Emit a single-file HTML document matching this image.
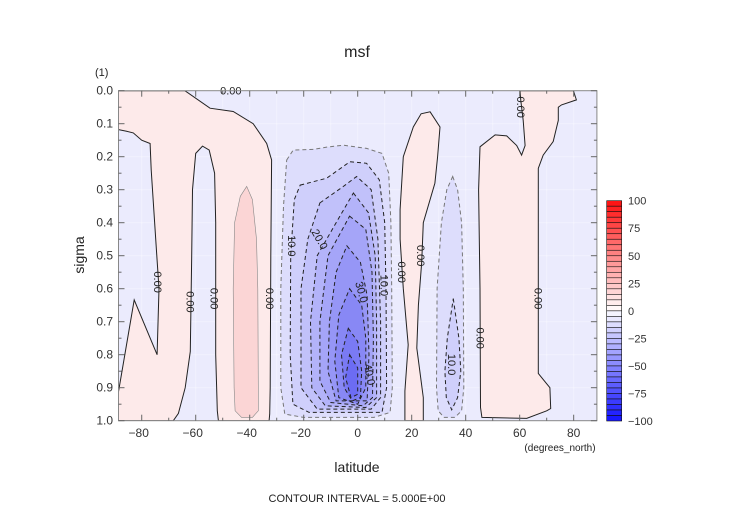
<!DOCTYPE html>
<html><head><meta charset="utf-8">
<style>
html,body{margin:0;padding:0;background:#fff;}
svg{display:block;font-family:"Liberation Sans",sans-serif;}
</style></head>
<body>
<svg id="chart" width="752" height="532" viewBox="0 0 752 532">
  <defs><clipPath id="plotclip"><rect x="118.5" y="90.7" width="478.4" height="330"/></clipPath></defs>
  <text x="357" y="57" font-size="16" text-anchor="middle" fill="#222">msf</text>
  <text x="95" y="76" font-size="11" fill="#222">(1)</text>
  <text transform="translate(84,255) rotate(-90)" font-size="14" text-anchor="middle" fill="#222">sigma</text>
  <text x="357" y="472" font-size="14" text-anchor="middle" fill="#222">latitude</text>
  <text x="560" y="451" font-size="10" text-anchor="middle" fill="#222">(degrees_north)</text>
  <text x="357" y="502" font-size="11" text-anchor="middle" fill="#222">CONTOUR INTERVAL = 5.000E+00</text>
  <g id="plot" clip-path="url(#plotclip)"></g>
  <g id="lines" clip-path="url(#plotclip)"></g>
  <g id="labels"></g>
  <g id="axes"></g>
  <g id="cbar"></g>
</svg>
<script>
// ---- data (latitude, sigma) ----
const xTicks = [-80,-60,-40,-20,0,20,40,60,80];
const yTicks = [0.0,0.1,0.2,0.3,0.4,0.5,0.6,0.7,0.8,0.9,1.0];
const cbarTicks = [100,75,50,25,0,-25,-50,-75,-100];
const latRange = [-88.6, 88.6];
const sigRange = [0, 1];
// positive (0..5) region, single outer boundary
const pinkWest = [[-88.6,0],[-64,0],[-54.7,0.053],[-46.1,0.063],[-38.7,0.1],[-33.7,0.16],[-31.9,0.21],[-32.2,0.5],[-32.4,0.9],[-32.6,0.98],[-32.8,1.0],[-51.6,1.0],[-52,0.97],[-52.6,0.8],[-52.6,0.4],[-53,0.25],[-55,0.18],[-57.5,0.168],[-60,0.19],[-61.2,0.3],[-61.5,0.5],[-62,0.79],[-63.9,0.9],[-66.4,0.978],[-68.3,1.0],[-88.6,1.0],[-88.6,0.912],[-82.8,0.634],[-74.3,0.80],[-73.6,0.6],[-74.4,0.5],[-76.5,0.24],[-76.9,0.16],[-80,0.15],[-83.1,0.128],[-85.6,0.123],[-88.6,0.118]];
const pinkLobe = [[-41.1,0.29],[-39,0.33],[-37.5,0.45],[-37,0.6],[-36.8,0.9],[-36.8,0.97],[-39,0.99],[-43,0.99],[-45.4,0.97],[-45.8,0.9],[-46.1,0.6],[-45.6,0.4],[-43.5,0.32]];
const pinkMid = [[26.8,0.064],[30.5,0.11],[29.6,0.2],[28.6,0.28],[24.3,0.4],[23.7,0.52],[22.5,0.65],[21.9,0.78],[24.3,0.93],[24.3,1.0],[17.5,1.0],[17.5,0.91],[18.7,0.77],[16.9,0.6],[15.7,0.45],[15.7,0.36],[16.9,0.2],[20.6,0.11],[23.5,0.07]];
const pinkEast = [[60.1,0],[79.9,0],[81,0.028],[75.5,0.043],[74.3,0.05],[74.3,0.09],[72.4,0.154],[68.7,0.195],[66.9,0.235],[66.9,0.5],[66.9,0.857],[71.2,0.9],[71.5,0.963],[70,0.97],[62.6,0.993],[46,0.99],[45.5,0.96],[45.3,0.6],[44.8,0.3],[45.3,0.17],[50.9,0.134],[55.2,0.137],[58.9,0.166],[60.7,0.195],[62,0.166],[61.3,0.09],[60.4,0.03]];
// negative regions, nested, by level
const negLevels = [-5,-10,-15,-20,-25,-30,-35,-40,-45];
const negMain = [
 [[-26.3,0.21],[-23.9,0.18],[-16.4,0.178],[-11.5,0.171],[-5.3,0.165],[3.3,0.175],[9,0.19],[11.5,0.25],[12.3,0.4],[12.6,0.6],[12.8,0.9],[12,0.975],[6,0.99],[-20,0.99],[-27,0.98],[-28.5,0.9],[-28.5,0.6],[-27.5,0.35]],
 [[-21.3,0.286],[-11.5,0.265],[-2.9,0.215],[3.3,0.22],[8,0.27],[10,0.4],[10.5,0.6],[10.7,0.9],[9,0.975],[-18,0.975],[-24,0.95],[-25,0.8],[-24.8,0.5],[-23.5,0.33]],
 [[-14,0.34],[-5.3,0.29],[-0.4,0.26],[5,0.3],[7.5,0.45],[8.5,0.7],[8.5,0.93],[5,0.965],[-15,0.965],[-21,0.9],[-21,0.6],[-18.5,0.45]],
 [[-1.6,0.31],[4,0.37],[6.5,0.5],[7,0.7],[7,0.93],[3,0.96],[-12,0.955],[-17,0.9],[-17.5,0.7],[-15,0.5],[-8,0.4]],
 [[-3,0.38],[3,0.42],[5.3,0.55],[5.8,0.75],[5.5,0.93],[2,0.955],[-10,0.945],[-14,0.88],[-14,0.7],[-11,0.5]],
 [[-4,0.47],[1,0.52],[3.5,0.62],[4.2,0.8],[3.5,0.94],[-8,0.94],[-11,0.85],[-10.5,0.7],[-8,0.55]],
 [[-3,0.6],[1.5,0.65],[3,0.75],[3,0.9],[0,0.95],[-7,0.93],[-8.5,0.82],[-7,0.68]],
 [[-3.5,0.72],[0,0.76],[1.5,0.85],[1,0.93],[-2,0.94],[-5,0.9],[-6,0.8]],
 [[-3,0.8],[0,0.84],[0,0.92],[-2.5,0.93],[-4.5,0.87]]
];
const negEast5 = [[35.2,0.26],[37,0.3],[38.5,0.4],[39.1,0.6],[39.3,0.9],[38.5,0.97],[36,0.99],[32,0.99],[29.8,0.97],[29.2,0.9],[29.4,0.6],[31,0.4],[33,0.3]];
const negEast10 = [[35.4,0.63],[37.5,0.75],[38.2,0.85],[37,0.93],[34.8,0.967],[32.8,0.93],[32.3,0.85],[33.2,0.75]];
const labelText = ["0.00","0.00","0.00","0.00","10.0","20.0","30.0","40.0","10.0","0.00","0.00","10.0","0.00","0.00","0.00","0.00"];
const labelLat  = [-74,-62,-53,-32.5,-24.4,-14,1.5,4.5,10,16.5,23.5,35,45.5,67,60.5,-47];
const labelSig  = [0.58,0.64,0.63,0.63,0.47,0.45,0.61,0.86,0.59,0.55,0.50,0.83,0.75,0.63,0.05,0.0];
const labelRot  = [90,90,90,90,90,60,75,80,90,90,90,90,90,90,90,0];

// ---- axis functions ----
const PX0=118.5, PX1=596.9, PY0=90.7, PY1=420.7;
function X(lat){return PX0+(lat-latRange[0])/(latRange[1]-latRange[0])*(PX1-PX0);}
function Y(s){return PY0+(s-sigRange[0])/(sigRange[1]-sigRange[0])*(PY1-PY0);}
const NS='http://www.w3.org/2000/svg';
function mk(tag,attrs,parent){const e=document.createElementNS(NS,tag);for(const k in attrs)e.setAttribute(k,attrs[k]);parent.appendChild(e);return e;}
function pts(poly){return poly.map(p=>X(p[0]).toFixed(1)+','+Y(p[1]).toFixed(1)).join(' ');}
function negColor(level){ // level = upper bound (e.g. -5 means -10..-5)
  const t=Math.min(1,(-level)/55);
  const v=Math.round(235-t*(235-80));
  return 'rgb('+v+','+v+','+(253-Math.round(t*12))+')';
}
const plot=document.getElementById('plot'), lines=document.getElementById('lines');
let e=mk('rect',{x:PX0,y:PY0,width:PX1-PX0,height:PY1-PY0,fill:'#ebebfd'},plot);


// grid
for(let lat=-80;lat<=80;lat+=10){e=mk('line',{x1:X(lat),x2:X(lat),y1:PY0,y2:PY1,stroke:'#ffffff',"stroke-opacity":0.35,"stroke-width":1},plot);

}
for(let s=0.1;s<1;s+=0.1){e=mk('line',{x1:PX0,x2:PX1,y1:Y(s),y2:Y(s),stroke:'#ffffff',"stroke-opacity":0.35,"stroke-width":1},plot);

}
// pink regions
[[pinkWest,'pink-region-west'],[pinkMid,'pink-region-mid'],[pinkEast,'pink-region-east']].forEach(([p,n])=>{
  e=mk('polygon',{points:pts(p),fill:'#fdeaea'},plot);
  
  
  e=mk('polygon',{points:pts(p),fill:'none',stroke:'#222',"stroke-width":1},lines);
  
  
});
e=mk('polygon',{points:pts(pinkLobe),fill:'#fbd5d5',stroke:'#888',"stroke-width":0.6},plot);


// negative regions
negMain.forEach((p,i)=>{
  e=mk('polygon',{points:pts(p),fill:negColor(negLevels[i])},plot);
  
  
  e=mk('polygon',{points:pts(p),fill:'none',stroke:i==0?'#777':'#222',"stroke-width":1,"stroke-dasharray":'4,3'},lines);
  
  
});
e=mk('polygon',{points:pts(negEast5),fill:negColor(-5),stroke:'#777',"stroke-width":1,"stroke-dasharray":'4,3'},plot);


e=mk('polygon',{points:pts(negEast10),fill:negColor(-10),stroke:'#222',"stroke-width":1,"stroke-dasharray":'4,3'},plot);


// labels
const lab=document.getElementById('labels');
labelText.forEach((t,i)=>{
  const x=X(labelLat[i]),y=Y(labelSig[i]);
  e=mk('text',{x:0,y:4,"font-size":11,"text-anchor":'middle',fill:'#222',transform:'translate('+x+','+y+') rotate('+labelRot[i]+')'},lab);
  e.textContent=t;
  
  
});
// axes
const ax=document.getElementById('axes');
e=mk('rect',{x:PX0,y:PY0,width:PX1-PX0,height:PY1-PY0,fill:'none',stroke:'#888',"stroke-width":1},ax);


for(let lat=-80;lat<=80;lat+=10){
  const len=(lat%20===0)?6:3;
  mk('line',{x1:X(lat),x2:X(lat),y1:PY1,y2:PY1-len,stroke:'#666'},ax);
  mk('line',{x1:X(lat),x2:X(lat),y1:PY0,y2:PY0+len,stroke:'#666'},ax);
}
for(let k=0;k<=20;k++){
  const s=k*0.05,len=(k%2===0)?6:3;
  mk('line',{x1:PX0,x2:PX0+len,y1:Y(s),y2:Y(s),stroke:'#666'},ax);
  mk('line',{x1:PX1,x2:PX1-len,y1:Y(s),y2:Y(s),stroke:'#666'},ax);
}
xTicks.forEach(v=>{
  e=mk('text',{x:X(v)-(v<0?3:0),y:437,"font-size":12,"text-anchor":'middle',fill:'#333'},ax);
  e.textContent=(v<0?'\u2212':'')+Math.abs(v);
  
  
});
yTicks.forEach(v=>{
  e=mk('text',{x:113,y:Y(v)+4,"font-size":12,"text-anchor":'end',fill:'#333'},ax);
  e.textContent=v.toFixed(1);
  
  
});
// colorbar
const cb=document.getElementById('cbar');
const CX=606.7,CW=15,CY0=200.7,CY1=421;
function CBY(v){return CY0+(100-v)/200*(CY1-CY0);}
for(let v=100;v>-100;v-=5){
  const mid=v-2.5,t=Math.abs(mid)/100;
  let col;
  if(mid>0){const g=Math.round(255-t*240);col='rgb(255,'+g+','+g+')';}
  else{const g=Math.round(250-t*232);col='rgb('+g+','+g+',255)';}
  e=mk('rect',{x:CX,y:CBY(v),width:CW,height:CBY(v-5)-CBY(v),fill:col,stroke:'#111',"stroke-width":0.6},cb);
  
  
}
cbarTicks.forEach(v=>{
  e=mk('text',{x:628,y:CBY(v)+4,"font-size":11,fill:'#333'},cb);
  e.textContent=(v<0?'\u2212':'')+Math.abs(v);
  
  
});
</script>
</body></html>
